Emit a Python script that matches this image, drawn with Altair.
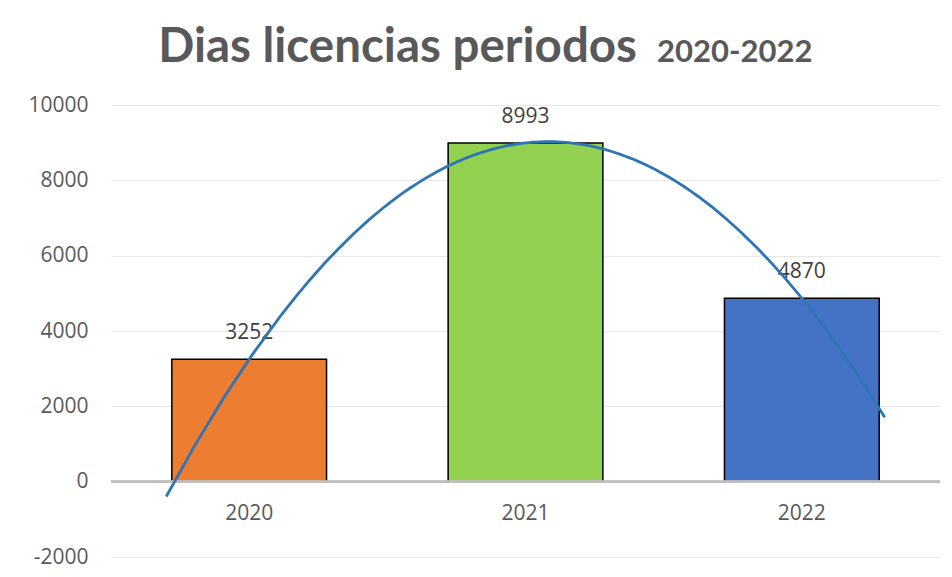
import altair as alt
import pandas as pd

years = ["2020", "2021", "2022"]
dias = [3252, 8993, 4870]
idx = [0, 1, 2]
bar_colors = ["#ED7D31", "#92D050", "#4472C4"]
y_ticks = [-2000, 0, 2000, 4000, 6000, 8000, 10000]
title_main = "Dias licencias periodos"
title_years = "2020-2022"

df = pd.DataFrame({"year": years, "dias": dias, "idx": idx})

W, H = 829, 452
FONT = "Open Sans"

xband = alt.Scale(type="band", paddingInner=0.44, paddingOuter=0.22)
yscale = alt.Scale(domain=[-2000, 10000], nice=False, zero=False)
yaxis = alt.Axis(title=None, values=y_ticks, labelExpr="'' + datum.value", grid=True,
                 gridColor="#E8E8E8", gridWidth=1, domain=False,
                 ticks=False, tickSize=0, labelPadding=23,
                 labelFontSize=21, labelColor="#595959", labelFont=FONT)

base = alt.Chart(df)

bars = base.mark_bar(stroke="black", strokeWidth=1.5).encode(
    x=alt.X("year:N", scale=xband, sort=years,
            axis=alt.Axis(title=None, labelAngle=0, domain=False, ticks=False,
                          tickSize=0, labelPadding=21, offset=-75.3,
                          labelFontSize=21, labelColor="#595959", labelFont=FONT)),
    y=alt.Y("dias:Q", scale=yscale, axis=yaxis),
    color=alt.Color("year:N", scale=alt.Scale(domain=years, range=bar_colors), legend=None),
)

zero = base.mark_rule(color="#BFBFBF", strokeWidth=2.5).encode(y=alt.datum(0))

labels = base.mark_text(dy=-26, baseline="middle", fontSize=21, color="#404040", font=FONT).encode(
    x=alt.X("year:N", sort=years),
    y=alt.Y("dias:Q"),
    text=alt.Text("dias:Q", format="d"),
)

main = alt.layer(bars, zero, labels)

trend = base.transform_regression(
    "idx", "dias", method="poly", order=2, extent=[-0.3, 2.3]
).mark_line(color="#2E75B6", strokeWidth=2.8).encode(
    x=alt.X("idx:Q", scale=alt.Scale(domain=[-0.5, 2.5], nice=False, zero=False), axis=None),
    y=alt.Y("dias:Q", scale=yscale, axis=yaxis),
)

t1 = alt.Chart(pd.DataFrame({"t": [title_main]})).mark_text(
    align="right", baseline="alphabetic", fontSize=47.5, fontWeight="bold",
    font="Lato", color="#595959"
).encode(x=alt.value(526), y=alt.value(-43), text="t:N")

t2 = alt.Chart(pd.DataFrame({"t": [title_years]})).mark_text(
    align="left", baseline="alphabetic", fontSize=31, fontWeight="bold",
    font="Lato", color="#595959"
).encode(x=alt.value(546), y=alt.value(-43), text="t:N")

chart = alt.layer(main, trend, t1, t2).resolve_scale(x="independent").properties(
    width=W, height=H,
    autosize=alt.AutoSizeParams(type="none"),
    padding={"left": 103, "top": 97, "right": 4, "bottom": 12},
).configure_view(stroke=None)

chart.save("out.html", embed_options={"renderer": "svg", "actions": False})
